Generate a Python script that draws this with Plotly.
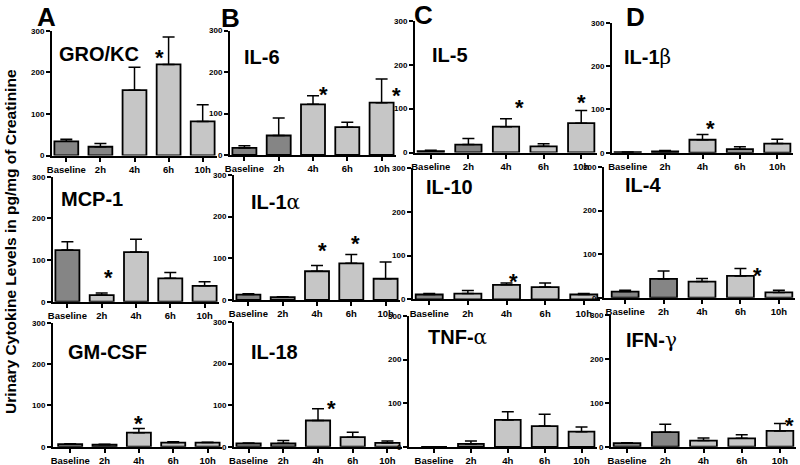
import plotly.graph_objects as go

# ---------------- data ----------------
categories = ["Baseline", "2h", "4h", "6h", "10h"]
cytokines = ["GRO/KC", "IL-6", "IL-5", "IL-1β",
             "MCP-1", "IL-1α", "IL-10", "IL-4",
             "GM-CSF", "IL-18", "TNF-α", "IFN-γ"]

GRO_KC_MEAN = [34, 21, 157, 219, 82]
GRO_KC_UPPER = [39, 29, 212, 285, 122]
IL6_MEAN = [17, 47, 122, 67, 126]
IL6_UPPER = [22, 89, 143, 79, 183]
IL5_MEAN = [3, 18, 59, 14, 67]
IL5_UPPER = [5, 32, 77, 20, 96]
IL1B_MEAN = [1, 3, 30, 8, 21]
IL1B_UPPER = [1.5, 5, 42, 14, 31]
MCP1_MEAN = [124, 16, 119, 56, 38]
MCP1_UPPER = [144, 21, 150, 70, 48]
IL1A_MEAN = [13, 7, 69, 88, 51]
IL1A_UPPER = [15, 8, 83, 109, 91]
IL10_MEAN = [11, 13, 33, 28, 11]
IL10_UPPER = [13, 20, 37, 37, 13]
IL4_MEAN = [14, 43, 37, 50, 12]
IL4_UPPER = [17, 61, 44, 67, 17]
GMCSF_MEAN = [6, 5, 34, 10, 10]
GMCSF_UPPER = [7, 6, 44, 12, 11]
IL18_MEAN = [8, 8, 63, 23, 9]
IL18_UPPER = [9, 15, 91, 35, 14]
TNFA_MEAN = [0, 7, 62, 48, 35]
TNFA_UPPER = [0, 14, 81, 75, 46]
IFNG_MEAN = [8, 33, 14, 19, 36]
IFNG_UPPER = [9, 51, 20, 27, 53]

means = [GRO_KC_MEAN, IL6_MEAN, IL5_MEAN, IL1B_MEAN, MCP1_MEAN, IL1A_MEAN,
         IL10_MEAN, IL4_MEAN, GMCSF_MEAN, IL18_MEAN, TNFA_MEAN, IFNG_MEAN]
uppers = [GRO_KC_UPPER, IL6_UPPER, IL5_UPPER, IL1B_UPPER, MCP1_UPPER, IL1A_UPPER,
          IL10_UPPER, IL4_UPPER, GMCSF_UPPER, IL18_UPPER, TNFA_UPPER, IFNG_UPPER]

# significance stars: (panel index, category, height in data units)
star_panel = [0, 1, 1, 2, 2, 3, 4, 5, 5, 6, 7, 8, 9, 11]
star_cat = ["6h", "4h", "10h", "4h", "10h", "4h", "2h", "4h", "6h", "4h", "6h", "4h", "4h", "10h"]
star_y = [250, 161, 158, 116, 127, 69, 72, 134, 149, 55, 64, 70, 106, 61]

y_ticks = [0, 100, 200, 300]
panel_letters = ["A", "B", "C", "D"]

# ---------------- layout / styling ----------------
W, H = 800, 465
DARK = "#858585"
LIGHT = "#c6c6c6"
FONT = "Liberation Sans, Arial, sans-serif"
dark_2h = [True, True, True, True, False, True, False, True, True, True, True, True]
star_dx = [-9, 10, 15, 13, 0, 8, 7, 5, 4, 7, 17, 0, 13, 10]

# panel geometry in pixels: (x_left, x_right, y_of_0, y_of_300) and x-range start
geom = [
    (52, 217, 155.5, 30.7), (230, 396, 155.0, 30.5), (415, 597, 152.5, 21.0), (612, 793, 152.7, 23.0),
    (53, 219, 301.7, 176.7), (234, 400, 300.0, 175.0), (413, 600, 299.3, 168.0), (604, 795, 297.7, 167.0),
    (53, 222, 446.7, 322.7), (234, 402, 446.7, 322.0), (409, 597, 447.0, 316.0), (611, 796, 446.7, 315.0),
]
range_start = [-0.42, -0.42, -0.42, -0.42,
               -0.42, -0.42, -0.42, -0.55,
               -0.5, -0.42, -0.68, -0.42]
title_pos = [(57, 54), (242, 57), (430, 55), (622, 57),
             (59, 199), (249, 202), (424, 187), (623, 185),
             (66, 352), (249, 352), (426, 337), (624, 340)]
letter_pos = [(35, 17), (219, 18), (412, 15), (624, 17)]


def fx(x):
    return x / W


def fy(y):
    return 1 - y / H


def fmt_title(t):
    for g in ["β", "α", "γ"]:
        if g in t:
            base = t.replace(g, "")
            return ("<b>" + base + "</b>" +
                    "<span style='font-family:DejaVu Serif, Liberation Serif, serif;font-weight:normal'>" +
                    g + "</span>")
    return "<b>" + t + "</b>"


fig = go.Figure()
annotations = []
layout = {}

for i, name in enumerate(cytokines):
    k = "" if i == 0 else str(i + 1)
    xa, ya = "x" + k, "y" + k
    m = means[i]
    up = uppers[i]
    err = [u - v for u, v in zip(up, m)]
    colors = [DARK, DARK if dark_2h[i] else LIGHT, LIGHT, LIGHT, LIGHT]
    fig.add_trace(go.Bar(
        x=categories, y=m, xaxis=xa, yaxis=ya, width=0.7,
        marker=dict(color=colors, line=dict(color="black", width=1.8)),
        error_y=dict(type="data", array=err, arrayminus=[0] * 5, symmetric=False,
                     color="black", thickness=1.5, width=6),
        showlegend=False, hoverinfo="x+y",
    ))
    x0, x1, y0, y3 = geom[i]
    layout["xaxis" + k] = dict(
        domain=[fx(x0), fx(x1)], anchor=ya, type="category",
        categoryorder="array", categoryarray=categories, automargin=False,
        range=[range_start[i], 4.42], showline=True, linewidth=2, linecolor="black",
        ticks="outside", ticklen=4, tickwidth=1.5, tickcolor="black",
        showgrid=False, zeroline=False,
        tickfont=dict(family=FONT, size=9.5, color="black", weight="bold"),
    )
    layout["yaxis" + k] = dict(
        domain=[fy(y0), fy(y3)], anchor=xa, range=[0, 300], automargin=False,
        tickvals=y_ticks, showline=True, linewidth=2, linecolor="black",
        ticks="outside", ticklen=4, tickwidth=1.5, tickcolor="black",
        showgrid=False, zeroline=False,
        tickfont=dict(family=FONT, size=8, color="black", weight="bold"),
    )
    tx, ty = title_pos[i]
    annotations.append(dict(
        text=fmt_title(name), x=fx(tx), y=fy(ty), xref="paper", yref="paper",
        xanchor="left", yanchor="middle", showarrow=False,
        font=dict(family=FONT, size=20, color="black"),
    ))

for j, p in enumerate(star_panel):
    k = "" if p == 0 else str(p + 1)
    annotations.append(dict(
        text="<b>*</b>", x=star_cat[j], y=star_y[j], xref="x" + k, yref="y" + k,
        xanchor="center", yanchor="middle", showarrow=False, xshift=star_dx[j], yshift=-6,
        font=dict(family=FONT, size=22, color="black"),
    ))

for j, L in enumerate(panel_letters):
    lx, ly = letter_pos[j]
    annotations.append(dict(
        text="<b>" + L + "</b>", x=fx(lx), y=fy(ly), xref="paper", yref="paper",
        xanchor="left", yanchor="middle", showarrow=False,
        font=dict(family=FONT, size=26, color="black"),
    ))

annotations.append(dict(
    text="<b>Urinary Cytokine Levels in pg/mg of Creatinine</b>",
    x=fx(11), y=fy(242), xref="paper", yref="paper", textangle=-90,
    xanchor="center", yanchor="middle", showarrow=False,
    font=dict(family=FONT, size=15.5, color="black"),
))

fig.update_layout(
    template="none",
    width=W, height=H, margin=dict(l=0, r=0, t=0, b=0, autoexpand=False),
    paper_bgcolor="white", plot_bgcolor="white",
    annotations=annotations, bargap=0.3, **layout,
)

fig.write_html("out.html", config={"displayModeBar": False},
               post_script="document.body.style.margin='0';document.body.style.overflow='hidden';")
